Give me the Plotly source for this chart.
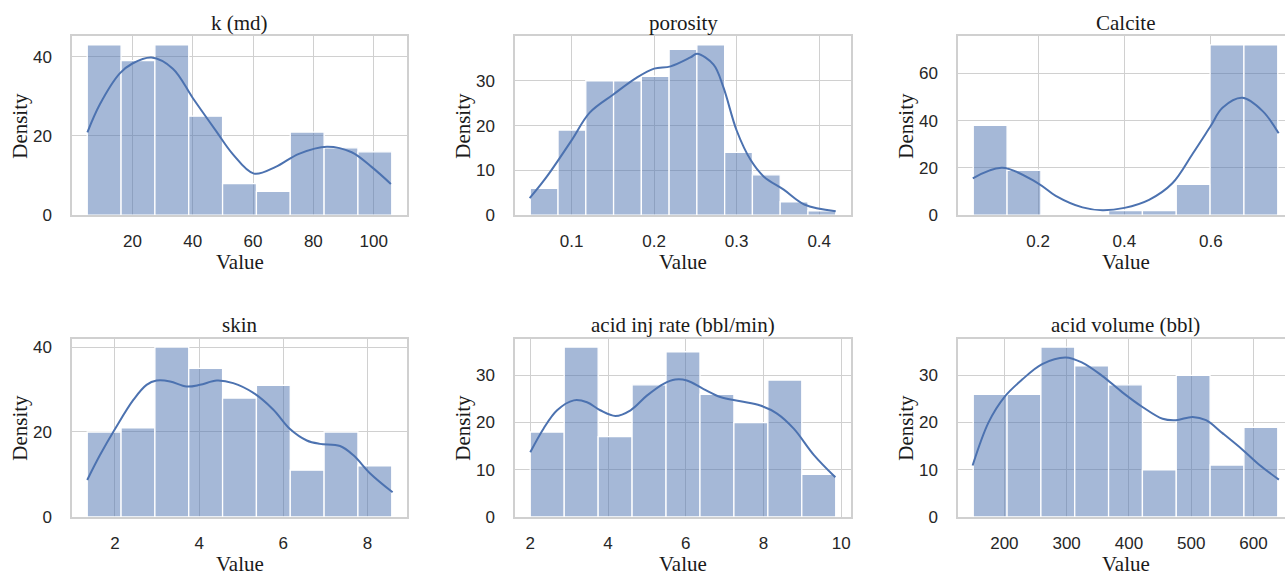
import numpy as np
import plotly.graph_objects as go

W, H = 1285, 579

# ---------------- data ----------------
titles = ["k (md)", "porosity", "Calcite", "skin", "acid inj rate (bbl/min)", "acid volume (bbl)"]

k_counts = [43, 39, 43, 25, 8, 6, 21, 17, 16]
k_span = [5.0, 106.0]
k_kde_x = [5.05, 9.2, 15.8, 20.0, 26.3, 33.4, 40.0, 47.7, 53.2, 60.3, 67.5, 75.2, 84.5, 92.7, 99.3, 105.7]
k_kde_y = [20.9, 28.0, 35.8, 38.3, 39.8, 37.0, 29.6, 21.3, 15.5, 10.5, 12.2, 15.5, 17.3, 15.9, 12.2, 7.9]
k_xticks = [20, 40, 60, 80, 100]
k_yticks = [0, 20, 40]

por_counts = [6, 19, 30, 30, 31, 37, 38, 14, 9, 3, 1]
por_span = [0.05, 0.42]
por_kde_x = [0.0493, 0.07, 0.1, 0.122, 0.151, 0.179, 0.2, 0.22, 0.244, 0.252, 0.272, 0.284, 0.3, 0.317, 0.333, 0.357, 0.382, 0.42]
por_kde_y = [3.8, 8.6, 16.7, 22.9, 27.0, 30.7, 32.7, 33.2, 35.2, 36.0, 33.6, 28.5, 18.9, 12.3, 8.6, 5.7, 2.4, 0.9]
por_xticks = [0.1, 0.2, 0.3, 0.4]
por_yticks = [0, 10, 20, 30]

cal_counts = [38, 19, 0, 0, 2, 2, 13, 72, 72]
cal_span = [0.05, 0.755]
cal_kde_x = [0.049, 0.117, 0.2, 0.241, 0.303, 0.349, 0.4, 0.457, 0.511, 0.558, 0.6, 0.627, 0.673, 0.72, 0.757]
cal_kde_y = [15.6, 20.1, 13.5, 8.2, 3.3, 2.1, 3.1, 6.5, 13.5, 26.0, 37.8, 45.4, 49.6, 44.0, 34.6]
cal_xticks = [0.2, 0.4, 0.6]
cal_yticks = [0, 20, 40, 60]

skin_counts = [20, 21, 40, 35, 28, 31, 11, 20, 12]
skin_span = [1.34, 8.58]
skin_kde_x = [1.34, 1.64, 2.0, 2.44, 2.75, 2.99, 3.31, 3.70, 4.02, 4.42, 4.81, 5.29, 5.76, 6.16, 6.56, 6.87, 7.35, 7.67, 8.06, 8.60]
skin_kde_y = [8.7, 14.5, 20.7, 27.6, 31.1, 32.1, 31.9, 30.7, 31.1, 32.1, 31.5, 29.2, 25.3, 20.7, 18.0, 17.2, 16.7, 14.5, 10.3, 5.8]
skin_xticks = [2, 4, 6, 8]
skin_yticks = [0, 20, 40]

rate_counts = [18, 36, 17, 28, 35, 26, 20, 29, 9]
rate_span = [2.0, 9.86]
rate_kde_x = [2.0, 2.34, 2.69, 3.12, 3.46, 3.80, 4.19, 4.58, 5.0, 5.43, 5.73, 6.03, 6.46, 6.89, 7.41, 7.92, 8.35, 8.78, 9.30, 9.85]
rate_kde_y = [13.7, 18.7, 22.6, 24.7, 24.3, 22.6, 21.4, 22.6, 25.7, 28.2, 29.1, 28.9, 27.1, 25.4, 24.5, 23.6, 21.9, 18.7, 13.1, 8.4]
rate_xticks = [2, 4, 6, 8, 10]
rate_yticks = [0, 10, 20, 30]

vol_counts = [26, 26, 36, 32, 28, 10, 30, 11, 19]
vol_span = [150.0, 639.0]
vol_kde_x = [149, 174.8, 200, 228.5, 260.7, 298.3, 325, 357, 389.5, 421.7, 454, 475.4, 502.3, 523.8, 550.6, 582.8, 609.7, 640.8]
vol_kde_y = [10.9, 20.1, 25.4, 29.1, 32.4, 33.8, 32.7, 29.9, 26.4, 23.3, 20.8, 20.5, 21.2, 20.5, 17.7, 14.2, 11.0, 7.9]
vol_xticks = [200, 300, 400, 500, 600]
vol_yticks = [0, 10, 20, 30]

panels = [
    (k_counts, k_span, k_kde_x, k_kde_y, k_xticks, k_yticks),
    (por_counts, por_span, por_kde_x, por_kde_y, por_xticks, por_yticks),
    (cal_counts, cal_span, cal_kde_x, cal_kde_y, cal_xticks, cal_yticks),
    (skin_counts, skin_span, skin_kde_x, skin_kde_y, skin_xticks, skin_yticks),
    (rate_counts, rate_span, rate_kde_x, rate_kde_y, rate_xticks, rate_yticks),
    (vol_counts, vol_span, vol_kde_x, vol_kde_y, vol_xticks, vol_yticks),
]

# ---------------- layout / style ----------------
col_px = [(72, 407), (515, 851), (958, 1293)]
row_px = [(37, 219), (344.5, 526)]

BAR = "rgba(76,114,176,0.5)"
LINE = "#4C72B0"
GRID = "#d0d0d0"
SERIF = "Liberation Serif, Times New Roman, serif"
SANS = "Liberation Sans, Arial, sans-serif"

fig = go.Figure()
layout = dict(
    width=W, height=H,
    margin=dict(l=0, r=0, t=0, b=0),
    paper_bgcolor="white", plot_bgcolor="white",
    showlegend=False,
    annotations=[],
)

for i, (counts, span, kx, ky, xt, yt) in enumerate(panels):
    r, c = divmod(i, 3)
    n = i + 1
    xa = "x" if n == 1 else f"x{n}"
    ya = "y" if n == 1 else f"y{n}"
    xkey = "xaxis" if n == 1 else f"xaxis{n}"
    ykey = "yaxis" if n == 1 else f"yaxis{n}"

    edges = np.linspace(span[0], span[1], len(counts) + 1)
    centers = (edges[:-1] + edges[1:]) / 2
    widths = np.diff(edges)

    fig.add_trace(go.Bar(
        x=centers, y=counts, width=widths,
        marker=dict(color=BAR, line=dict(color="white", width=1.3)),
        xaxis=xa, yaxis=ya, hoverinfo="x+y",
    ))
    fig.add_trace(go.Scatter(
        x=kx, y=ky, mode="lines",
        line=dict(color=LINE, width=2, shape="spline", smoothing=1.0),
        xaxis=xa, yaxis=ya, hoverinfo="skip",
    ))

    x0p, x1p = col_px[c]
    y0p, y1p = row_px[r]
    pad = 0.05 * (span[1] - span[0])
    lo, hi = span[0] - pad, span[1] + pad
    vis_x1 = min(x1p, W)
    hi_vis = lo + (hi - lo) * (vis_x1 - x0p) / (x1p - x0p)

    layout[xkey] = dict(
        domain=[x0p / W, vis_x1 / W], anchor=ya,
        range=[lo, hi_vis], tickvals=xt,
        showgrid=True, gridcolor=GRID, gridwidth=1.2,
        zeroline=False, showline=True, linecolor=GRID, linewidth=1.5, mirror=True,
        ticks="", ticklabelstandoff=10,
        tickfont=dict(family=SANS, size=17, color="#262626"),
    )
    layout[ykey] = dict(
        domain=[1 - y1p / H, 1 - y0p / H], anchor=xa,
        range=[0, 1.05 * max(counts)], tickvals=yt,
        showgrid=True, gridcolor=GRID, gridwidth=1.2,
        zeroline=False, showline=True, linecolor=GRID, linewidth=1.5,
        mirror=(c < 2),
        ticks="", ticklabelstandoff=15,
        tickfont=dict(family=SANS, size=17, color="#262626"),
    )

    cx = (x0p + x1p) / 2
    layout["annotations"].append(dict(
        text=titles[i], x=cx / W, y=1 - (y0p - 14) / H, xref="paper", yref="paper",
        xanchor="center", yanchor="middle", showarrow=False,
        font=dict(family=SERIF, size=21, color="#1a1a1a"),
    ))
    layout["annotations"].append(dict(
        text="Value", x=cx / W,
        y=1 - (y1p + 48) / H, xref="paper", yref="paper",
        xanchor="center", yanchor="middle", showarrow=False,
        font=dict(family=SERIF, size=21, color="#1a1a1a"),
    ))
    layout["annotations"].append(dict(
        text="Density", x=(x0p - 52) / W, y=1 - ((y0p + y1p) / 2) / H,
        xref="paper", yref="paper", textangle=-90,
        xanchor="center", yanchor="middle", showarrow=False,
        font=dict(family=SERIF, size=21, color="#1a1a1a"),
    ))

fig.update_layout(**layout)
fig.write_html(
    "out.html",
    config={"displayModeBar": False},
    post_script="document.body.style.margin='0';document.body.style.overflow='hidden';",
)
